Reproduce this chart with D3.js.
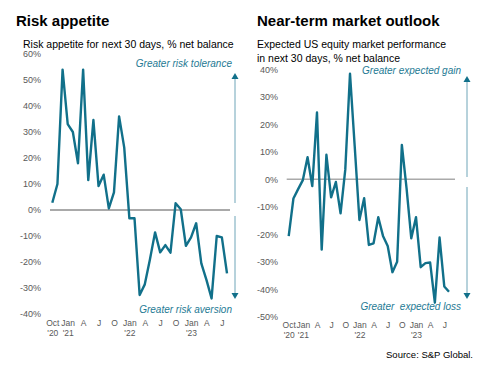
<!DOCTYPE html>
<html>
<head>
<meta charset="utf-8">
<script src="https://cdn.jsdelivr.net/npm/d3@7"></script>
<style>
  body { margin: 0; background: #fff; }
  svg { font-family: "Liberation Sans", Arial, sans-serif; }
</style>
</head>
<body>
<svg id="chart" width="491" height="378"></svg>
<script>
// Months: Oct 2020 .. Aug 2023 (35 monthly points)
const months = d3.range(35);
const riskAppetite = [2.8, 10, 54, 33, 30, 18, 54, 11.5, 34.6, 9.2, 13.6, 0.6, 6.8, 36, 24,
  -3.2, -3.2, -32.7, -28.6, -19, -8.6, -16.3, -13.5, -16.4, 2.6, 0.3, -13.8,
  -10.5, -5.1, -20.5, -26.9, -34, -10, -10.5, -24.4];
const marketOutlook = [-20.7, -7, -3.6, -0.3, 8, -2.5, 24.3, -25.6, 8.9, -6.6, -1, -12.4, 3.5, 38.4, 12,
  -14.8, -6.9, -23.9, -23.3, -13.8, -20.6, -24.3, -33.8, -30, 12.5, -3.3, -21.5,
  -13.8, -32, -30.5, -30.3, -44.9, -21.2, -39, -40.9];
const xTickIdx = [0, 3, 6, 9, 12, 15, 18, 21, 24, 27, 30, 33];
const xTickLabels = ["Oct", "Jan", "A", "J", "O", "Jan", "A", "J", "O", "Jan", "A", "J"];
const xYearLabels = ["'20", "'21", "", "", "", "'22", "", "", "", "'23", "", ""];
const leftYTicks = [60, 50, 40, 30, 20, 10, 0, -10, -20, -30, -40];
const rightYTicks = [40, 30, 20, 10, 0, -10, -20, -30, -40, -50];

const svg = d3.select("#chart");
const teal = "#11708a";
const annoColor = "#1e7a94";

function panel(cfg) {
  const g = svg.append("g");
  const x = d3.scaleLinear().domain([0, 34]).range(cfg.xRange);
  const y = d3.scaleLinear().domain(cfg.yDomain).range(cfg.yRange);

  // title & subtitle
  g.append("text").attr("x", cfg.titleX).attr("y", 26)
    .attr("font-size", 15).attr("font-weight", "bold").attr("fill", "#000").text(cfg.title);
  cfg.subtitle.forEach((s, i) => {
    g.append("text").attr("x", cfg.subX).attr("y", 48 + i * 13.5)
      .attr("font-size", 10.5).attr("fill", "#000").text(s);
  });

  // y axis
  const yAxis = d3.axisLeft(y).tickValues(cfg.yTicks).tickSize(0).tickPadding(0)
    .tickFormat(d => d + "%");
  const ya = g.append("g").attr("transform", `translate(${cfg.yLabelX},0)`).call(yAxis);
  ya.select(".domain").remove();
  ya.selectAll("text").attr("font-size", 9).attr("fill", "#595959")
    .attr("font-family", "Liberation Sans, Arial, sans-serif");

  // x axis
  const xAxis = d3.axisBottom(x).tickValues(xTickIdx).tickSize(0).tickPadding(0)
    .tickFormat((d, i) => xTickLabels[i]);
  const xa = g.append("g").attr("transform", `translate(0,${cfg.xLabelY})`).call(xAxis);
  xa.select(".domain").remove();
  xa.selectAll("text").attr("font-size", 8.5).attr("fill", "#595959")
    .attr("font-family", "Liberation Sans, Arial, sans-serif");
  xa.selectAll(".tick").append("text")
    .attr("y", 10).attr("dy", "0.71em").attr("text-anchor", "middle")
    .attr("font-size", 8.5).attr("fill", "#595959")
    .attr("font-family", "Liberation Sans, Arial, sans-serif")
    .text((d, i) => xYearLabels[i]);

  // zero line
  g.append("line").attr("x1", cfg.zeroX[0]).attr("x2", cfg.zeroX[1])
    .attr("y1", y(0)).attr("y2", y(0))
    .attr("stroke", cfg.zeroColor).attr("stroke-width", cfg.zeroWidth);

  // series line
  const line = d3.line().x((d, i) => x(i)).y(d => y(d));
  g.append("path").datum(cfg.values).attr("d", line)
    .attr("fill", "none").attr("stroke", teal).attr("stroke-width", 2.4)
    .attr("stroke-linejoin", "round");

  // arrows
  const ax = cfg.arrowX;
  g.append("line").attr("x1", ax).attr("x2", ax).attr("y1", cfg.upArrow[1]).attr("y2", cfg.upArrow[0] + 4)
    .attr("stroke", "#5e9bb0").attr("stroke-width", 0.9);
  g.append("path").attr("d", `M${ax - 3.5},${cfg.upArrow[0] + 6} L${ax},${cfg.upArrow[0]} L${ax + 3.5},${cfg.upArrow[0] + 6} Z`)
    .attr("fill", teal);
  g.append("line").attr("x1", ax).attr("x2", ax).attr("y1", cfg.downArrow[0]).attr("y2", cfg.downArrow[1] - 4)
    .attr("stroke", "#5e9bb0").attr("stroke-width", 0.9);
  g.append("path").attr("d", `M${ax - 3.5},${cfg.downArrow[1] - 6} L${ax},${cfg.downArrow[1]} L${ax + 3.5},${cfg.downArrow[1] - 6} Z`)
    .attr("fill", teal);

  // annotations
  g.append("text").attr("x", cfg.annoX).attr("y", cfg.annoTopY).attr("text-anchor", "end")
    .attr("font-size", 10).attr("font-style", "italic").attr("fill", annoColor).text(cfg.annoTop);
  g.append("text").attr("x", cfg.annoX).attr("y", cfg.annoBotY).attr("text-anchor", "end")
    .attr("font-size", 10).attr("font-style", "italic").attr("fill", annoColor)
    .attr("xml:space", "preserve").style("white-space", "pre").text(cfg.annoBot);
}

panel({
  title: "Risk appetite", titleX: 16, subX: 23,
  subtitle: ["Risk appetite for next 30 days, % net balance"],
  xRange: [52.3, 227], yDomain: [-40, 60], yRange: [314, 54],
  yTicks: leftYTicks, yLabelX: 41, xLabelY: 320,
  zeroX: [50, 230], zeroColor: "#555", zeroWidth: 1,
  values: riskAppetite,
  arrowX: 235, upArrow: [73, 203], downArrow: [216, 299],
  annoX: 232, annoTopY: 67, annoBotY: 313,
  annoTop: "Greater risk tolerance", annoBot: "Greater risk aversion"
});

panel({
  title: "Near-term market outlook", titleX: 257, subX: 257,
  subtitle: ["Expected US equity market performance", "in next 30 days, % net balance"],
  xRange: [288.7, 449], yDomain: [-50, 40], yRange: [316.7, 69.3],
  yTicks: rightYTicks, yLabelX: 278, xLabelY: 322,
  zeroX: [286.7, 455], zeroColor: "#aaa", zeroWidth: 1.5,
  values: marketOutlook,
  arrowX: 467, upArrow: [76, 177], downArrow: [187, 299],
  annoX: 461, annoTopY: 74, annoBotY: 310,
  annoTop: "Greater expected gain", annoBot: "Greater  expected loss"
});

svg.append("text").attr("x", 473).attr("y", 358).attr("text-anchor", "end")
  .attr("font-size", 9.5).attr("fill", "#000").text("Source: S&P Global.");
</script>
</body>
</html>
